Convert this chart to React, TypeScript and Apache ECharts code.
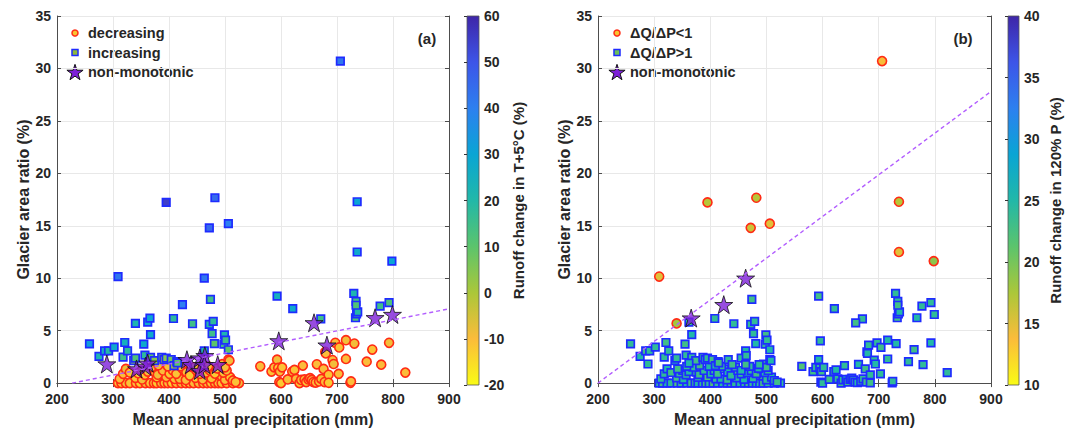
import React, { useEffect, useRef } from 'react';
import * as echarts from 'echarts';

// ---------- data ----------
// decreasing (panel a circles): [precip mm, glacier area ratio %, runoff change T+5°C %, runoff change 120% P %]
const decreasingA: number[][] = [
  [309,0,-10,24],[315,0,-12,23],[323,0,-9,25],[330,0,-11,24],[341,0,-10,22],[348,0,-13,24],[358,0,-9,25],[366,0,-11,23],
  [373,0,-10,24],[378,0,-12,25],[386,0,-9,24],[392,0,-11,23],[398,0,-10,24],[405,0,-13,22],[413,0,-10,24],[422,0,-9,25],
  [430,0,-11,24],[437,0,-12,23],[444,0,-10,24],[453,0,-9,25],[461,0,-11,24],[468,0,-10,23],[475,0,-12,24],[482,0,-9,25],
  [488,0,-10,24],[494,0,-11,23],[503,0,-10,24],[514,0,-12,25],[525,0,-9,24],
  [312,0.41,-10,24],[340,0.5,-11,23],[352,0.35,-9,25],[378,0.55,-12,24],[395,0.57,-10,22],[410,0.4,-11,24],[419,0.41,-9,25],
  [430,0.3,-10,23],[447,0.5,-12,24],[460,0.35,-10,25],[476,0.45,-11,24],[494,0.66,-9,23],[500,0.3,-10,24],[509,0.57,-12,25],
  [514,0.25,-10,24],[519,0.1,-11,23],
  [318,0.88,-10,24],[323,1.35,-8,25],[330,1.0,-11,23],[345,0.94,-10,24],[351,1.2,-9,22],[357,0.79,-12,24],[362,1.1,-10,25],
  [375,1.04,-11,24],[380,0.8,-9,23],[389,1.2,-10,24],[401,0.88,-12,25],[407,1.2,-10,24],[413,0.88,-11,23],[425,1.35,-9,24],
  [431,1.04,-10,25],[437,0.72,-12,24],[449,1.2,-10,23],[455,0.88,-11,24],[466,1.0,-9,25],[473,1.2,-10,24],[482,0.9,-12,23],
  [491,1.35,-10,24],[497,1.0,-11,25],[503,1.2,-9,24],
  [369,1.51,-10,24],[381,1.7,-9,23],[398,1.6,-11,25],[420,1.6,-10,24],[445,1.51,-12,23],[470,1.6,-10,24],[486,1.4,-9,25],
  [495,1.8,-11,24],[500,1.5,-10,23],[506,2.23,-8,24],[508,2.14,-9,25],
  [563,1.6,-10,22],[583,1.1,-11,23],[588,1.5,-10,24],[593,2.23,-9,25],[595,1.45,-12,24],[598,1.1,-10,23],[602,1.5,-11,24],
  [597,0.1,-10,25],[600,0,-12,24],[612,0.35,-10,23],[620,1.1,-9,24],[624,1.26,-11,25],[627,0.4,-10,24],[633,0,-12,23],
  [636,0.3,-10,24],[639,1.67,-10,24],[642,0.35,-11,25],[645,0.1,-11,23],[649,0.35,-9,24],[652,0.47,-10,23],[655,0.3,-9,24],
  [658,0.1,-12,24],[662,0.05,-10,25],[664,1.79,-10,25],[668,0.16,-11,24],[672,0.4,-11,24],[676,1.35,-10,23],[678,0.1,-10,23],
  [679,2.99,-9,24],[680,2.83,-10,25],[685,0.79,-11,24],[685,0.03,-12,23],[692,2.2,-10,24],[694,1.82,-9,25],[697,3.84,-10,24],
  [704,3.4,-11,23],[703,0.88,-10,24],[716,4.09,-9,25],[716,2.3,-10,24],[724,0.03,-12,23],[725,0.16,-10,24],[731,3.77,-9,25],
  [753,2.04,-10,24],[763,3.2,-11,23],[779,1.76,-10,24],[793,3.84,-9,25],[822,1.0,-10,24],
];

// increasing (panel a squares): [precip, area, runoff T+5°C, runoff 120% P, class in panel b]
const increasingA: (number | string)[][] = [
  [258,3.74,32,24,'gt'],[275,2.55,22,25,'gt'],[285,3.08,25,23,'gt'],[292,3.08,20,24,'gt'],[302,3.43,28,24,'gt'],
  [309,10.16,42,15,'lt'],[318,2.48,15,24,'gt'],[321,3.87,25,23,'gt'],[326,3.08,18,24,'gt'],[337,2.14,5,25,'gt'],
  [340,5.69,22,18,'lt'],[340,2.39,12,24,'gt'],[355,3.71,28,23,'gt'],[357,2.67,18,24,'gt'],[362,5.82,28,24,'gt'],
  [366,6.2,30,24,'nm'],[367,4.62,28,25,'gt'],[367,2.45,10,24,'gt'],[374,2.14,5,23,'gt'],[387,2.45,8,24,'gt'],
  [391,2.23,3,25,'gt'],[395,17.23,55,17,'lt'],[395,2.39,5,24,'gt'],[404,2.23,8,23,'gt'],[408,6.16,18,24,'gt'],
  [409,1.67,2,25,'gt'],[414,2.04,5,24,'gt'],[415,1.92,10,23,'gt'],[424,7.48,40,24,'nm'],[442,5.66,15,24,'gt'],
  [463,10.0,42,24,'nm'],[463,3.08,20,25,'gt'],[472,14.8,45,16,'lt'],[472,5.6,20,24,'gt'],[474,7.99,15,23,'gt'],
  [477,4.72,15,24,'gt'],[479,5.88,18,24,'gt'],[481,3.77,10,25,'gt'],[482,17.67,45,17,'lt'],[498,3.71,15,24,'gt'],
  [499,4.59,22,23,'gt'],[501,4.09,15,24,'gt'],[506,3.18,10,25,'gt'],[506,15.2,40,15,'lt'],[593,8.3,25,23,'gt'],
  [621,7.1,28,24,'gt'],[671,6.13,15,24,'gt'],[706,30.7,42,14,'lt'],[730,8.55,22,24,'gt'],[733,6.23,12,23,'gt'],
  [735,6.6,15,24,'gt'],[737,6.79,20,25,'gt'],[734,7.8,15,24,'gt'],[734,7.42,12,23,'gt'],[736,12.5,28,15,'lt'],
  [736,17.29,30,17,'lt'],[777,7.33,15,24,'gt'],[793,7.67,12,24,'gt'],[798,11.63,30,19,'lt'],
];

// non-monotonic (panel a stars): [precip, area, runoff 120% P]
const nonMonoA: number[][] = [
  [289,1.82,24],[342,1.35,23],[358,1.6,24],[362,1.9,25],[432,2.23,24],[439,1.76,23],[455,2.39,24],[455,1.2,25],
  [464,2.61,24],[463,1.76,23],[487,1.76,24],[596,4.03,24],[659,5.75,23],[682,3.62,24],[768,6.23,25],[799,6.54,24],
];

// dashed reference lines (end points)
const lineA: number[][] = [[227, 0], [900, 7.08]];
const lineB: number[][] = [[200, 0], [900, 27.8]];

const xMin = 200, xMax = 900, xStep = 100;
const yMin = 0, yMax = 35, yStep = 5;
const cbarA = { min: -20, max: 60, step: 10 };
const cbarB = { min: 10, max: 40, step: 5 };

// reversed parula, low -> high
const colormap = ['#f9fb15', '#fbbc3a', '#abc739', '#5cc46c', '#22b8a8', '#0aa5d4', '#2d80f0', '#3d55e8', '#3e26a8'];

// ---------- derived ----------
const aCircles = decreasingA.map(d => [d[0], d[1], d[2]]);
const aSquares = increasingA.map(d => [d[0], d[1], d[2]]);
const aStars = nonMonoA.map(d => [d[0], d[1]]);
const bCircles = increasingA.filter(d => d[4] === 'lt').map(d => [d[0], d[1], d[3]]);
const bStars = increasingA.filter(d => d[4] === 'nm').map(d => [d[0], d[1]]);
const bSquares = [
  ...decreasingA.map(d => [d[0], d[1], d[3]]),
  ...increasingA.filter(d => d[4] === 'gt').map(d => [d[0], d[1], d[3]]),
  ...nonMonoA.map(d => [d[0], d[1], d[2]]),
];

const FONT = 'Liberation Sans, Arial, sans-serif';
const TXT = '#262626';
const STAR_FILL = '#7d1fd8';
const STAR = 'path://M50 0L61.2 34.5L97.6 34.5L68.2 55.9L79.4 90.5L50 69.1L20.6 90.5L31.8 55.9L2.4 34.5L38.8 34.5Z';
const STAR_UNIT = [[0,-1],[0.2245,-0.309],[0.951,-0.309],[0.3633,0.118],[0.588,0.809],[0,0.382],[-0.588,0.809],[-0.3633,0.118],[-0.951,-0.309],[-0.2245,-0.309]];
const starPts = (cx: number, cy: number, r: number) => STAR_UNIT.map(p => [cx + p[0] * r, cy + p[1] * r + r * 0.1]);

const gridA = { left: 57, top: 16, width: 392, height: 369 };
const gridB = { left: 598, top: 16, width: 393, height: 369 };
const cbA = { left: 467, top: 16, width: 12, height: 369 };
const cbB = { left: 1008, top: 16, width: 11, height: 369 };

function gradient() {
  const stops = colormap.slice().reverse().map((c, i, a) => ({ offset: i / (a.length - 1), color: c }));
  return new echarts.graphic.LinearGradient(0, 0, 0, 1, stops);
}

const labelStyle = { color: TXT, fontFamily: FONT, fontWeight: 'bold' as const, fontSize: 14 };
const nameStyle = { color: TXT, fontFamily: FONT, fontWeight: 'bold' as const, fontSize: 16 };
const axisLine = { show: true, lineStyle: { color: '#4d4d4d', width: 1 } };
const tick = { show: true, inside: true, length: 4, lineStyle: { color: '#4d4d4d' } };
const split = { show: true, lineStyle: { color: '#e8e8e8', width: 1 } };

function xAxes(gridIndex: number) {
  return [
    { gridIndex, type: 'value', min: xMin, max: xMax, interval: xStep, position: 'bottom', axisLine, axisTick: tick,
      axisLabel: { ...labelStyle, margin: 9 }, splitLine: split,
      name: 'Mean annual precipitation (mm)', nameLocation: 'middle', nameGap: 23, nameTextStyle: nameStyle },
    { gridIndex, type: 'value', min: xMin, max: xMax, interval: xStep, position: 'top', axisLine, axisTick: tick,
      axisLabel: { show: false }, splitLine: { show: false } },
  ];
}
function yAxes(gridIndex: number) {
  return [
    { gridIndex, type: 'value', min: yMin, max: yMax, interval: yStep, position: 'left', axisLine, axisTick: tick,
      axisLabel: { ...labelStyle, margin: 6 }, splitLine: split,
      name: 'Glacier area ratio (%)', nameLocation: 'middle', nameGap: 25, nameRotate: 90, nameTextStyle: nameStyle },
    { gridIndex, type: 'value', min: yMin, max: yMax, interval: yStep, position: 'right', axisLine, axisTick: tick,
      axisLabel: { show: false }, splitLine: { show: false } },
  ];
}
function cbY(gridIndex: number, c: { min: number; max: number; step: number }, name: string, gap: number) {
  return { gridIndex, type: 'value', min: c.min, max: c.max, interval: c.step, position: 'right',
    axisLine: { show: false }, axisTick: { show: true, inside: true, length: 3, lineStyle: { color: '#333' } },
    axisLabel: { ...labelStyle, margin: 5 }, splitLine: { show: false },
    name, nameLocation: 'middle', nameGap: gap, nameRotate: 90, nameTextStyle: { ...nameStyle, fontSize: 15 } };
}

function scatterSeries(xi: number, yi: number, circles: number[][], squares: number[][], stars: number[][], line: number[][]) {
  return [
    { type: 'scatter', xAxisIndex: xi, yAxisIndex: yi, data: circles, symbol: 'circle', symbolSize: 9,
      itemStyle: { borderColor: '#ff2a14', borderWidth: 1.6, opacity: 1 } },
    { type: 'scatter', xAxisIndex: xi, yAxisIndex: yi, data: squares, symbol: 'rect', symbolSize: 7.5,
      itemStyle: { borderColor: '#1e2bff', borderWidth: 1.7, opacity: 1 } },
    { type: 'line', xAxisIndex: xi, yAxisIndex: yi, data: line, showSymbol: false, symbol: 'none', silent: true,
      lineStyle: { color: '#b25dff', width: 1.4, type: [4, 3] } },
    { type: 'scatter', xAxisIndex: xi, yAxisIndex: yi, data: stars, symbol: STAR, symbolSize: 18,
      itemStyle: { color: STAR_FILL, borderColor: '#111', borderWidth: 1 } },
  ];
}

function legend(x: number, labels: string[], circleFill: string, squareFill: string) {
  const rows = [33, 52.5, 72];
  const tx = x + 13;
  return [
    { type: 'circle', shape: { cx: x, cy: rows[0], r: 3 }, style: { fill: circleFill, stroke: '#ff2a14', lineWidth: 1.5 } },
    { type: 'rect', shape: { x: x - 3, y: rows[1] - 3, width: 6, height: 6 }, style: { fill: squareFill, stroke: '#1e2bff', lineWidth: 1.5 } },
    { type: 'polygon', shape: { points: starPts(x, rows[2], 8.5) }, style: { fill: STAR_FILL, stroke: '#111', lineWidth: 1 } },
    ...labels.map((t, i) => ({ type: 'text', x: tx, y: rows[i], style: { text: t, fill: TXT, font: `bold 14.5px ${FONT}`, verticalAlign: 'middle' } })),
  ];
}

export default function App() {
  const ref = useRef<HTMLDivElement>(null);
  useEffect(() => {
    if (!ref.current) return;
    const chart = echarts.init(ref.current, null, { renderer: 'svg' });
    const option: any = {
      animation: false,
      backgroundColor: '#ffffff',
      grid: [
        { ...gridA, show: true, borderColor: '#4d4d4d', borderWidth: 0, backgroundColor: '#fff' },
        { ...gridB, show: true, borderColor: '#4d4d4d', borderWidth: 0, backgroundColor: '#fff' },
        { ...cbA, show: true, borderColor: '#555', borderWidth: 0.8, backgroundColor: gradient() },
        { ...cbB, show: true, borderColor: '#555', borderWidth: 0.8, backgroundColor: gradient() },
      ],
      xAxis: [
        ...xAxes(0), ...xAxes(1),
        { gridIndex: 2, type: 'value', min: 0, max: 1, show: false },
        { gridIndex: 3, type: 'value', min: 0, max: 1, show: false },
      ],
      yAxis: [
        ...yAxes(0), ...yAxes(1),
        cbY(2, cbarA, 'Runoff change in T+5°C (%)', 32),
        cbY(3, cbarB, 'Runoff change in 120% P (%)', 29),
      ],
      visualMap: [
        { type: 'continuous', show: false, seriesIndex: [0, 1], dimension: 2, min: cbarA.min, max: cbarA.max, inRange: { color: colormap } },
        { type: 'continuous', show: false, seriesIndex: [4, 5], dimension: 2, min: cbarB.min, max: cbarB.max, inRange: { color: colormap } },
      ],
      series: [
        ...scatterSeries(0, 0, aCircles, aSquares, aStars, lineA),
        ...scatterSeries(2, 2, bCircles, bSquares, bStars, lineB),
      ],
      graphic: [
        ...legend(75, ['decreasing', 'increasing', 'non-monotonic'], '#f7c531', '#8fb83a'),
        ...legend(617, ['\u0394Q/\u0394P<1', '\u0394Q/\u0394P>1', 'non-monotonic'], '#f7c531', '#6cbf5a'),
        { type: 'text', x: 427, y: 38, style: { text: '(a)', fill: TXT, font: `bold 15px ${FONT}`, align: 'center', verticalAlign: 'middle' } },
        { type: 'text', x: 963, y: 38, style: { text: '(b)', fill: TXT, font: `bold 15px ${FONT}`, align: 'center', verticalAlign: 'middle' } },
      ],
    };
    chart.setOption(option);
    return () => chart.dispose();
  }, []);
  return <div ref={ref} style={{ position: 'fixed', left: 0, top: 0, width: 1074, height: 432 }} />;
}
